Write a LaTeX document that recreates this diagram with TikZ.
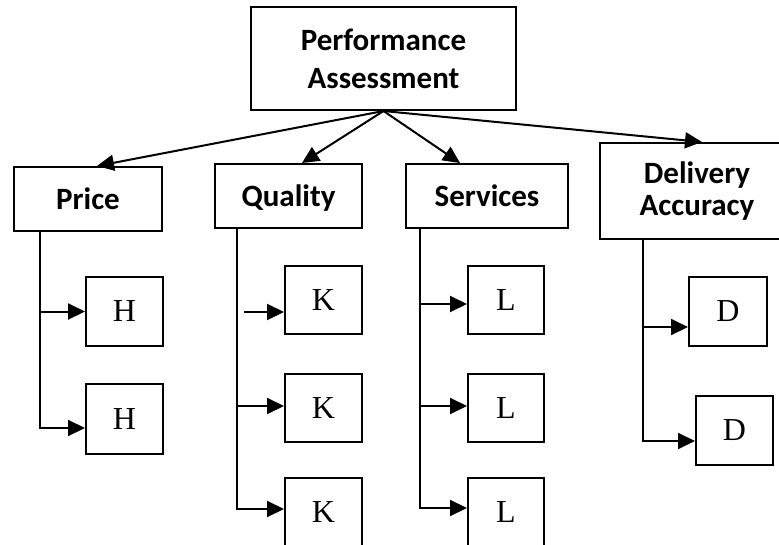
\documentclass[tikz,border=0pt]{standalone}
\usepackage{fontspec}
\setmainfont{Liberation Serif}
\newfontfamily\hdrfont{Carlito}[BoldFont={Carlito Bold}]
\usetikzlibrary{arrows.meta}
\begin{document}
\begin{tikzpicture}[x=1pt,y=-1pt,
  line width=2pt,
  boxstyle/.style={draw, line width=2pt, inner sep=0pt, anchor=center},
  hdr/.style={boxstyle, font=\hdrfont\bfseries\fontsize{31}{38}\selectfont, align=center},
  hdrone/.style={hdr, text height=20pt, text depth=0pt},
  leaf/.style={boxstyle, font=\fontsize{32}{36}\selectfont, minimum width=77pt, minimum height=68pt},
  arr/.style={-{Triangle[length=17pt,width=16pt]}, line width=2pt}]
\useasboundingbox (0,0) rectangle (779,544);
\clip (0,0) rectangle (779,544);
% header boxes
\node[hdr, minimum width=265pt, minimum height=103pt] (top) at (383.5,58.5) {Performance\\Assessment};
\node[hdrone, minimum width=148pt, minimum height=64pt] (price) at (88,199) {Price};
\node[hdrone, minimum width=147pt, minimum height=64pt] (quality) at (288.5,196) {Quality};
\node[hdrone, minimum width=162pt, minimum height=64pt] (services) at (487,196) {Services};
\node[hdr, font=\hdrfont\bfseries\fontsize{31}{32}\selectfont, minimum width=194pt, minimum height=96pt] (delivery) at (697,191) {Delivery\\Accuracy};
% leaves
\node[leaf, minimum height=69pt] (h1) at (124.5,311.5) {H};
\node[leaf, minimum height=70pt] (h2) at (124.5,419) {H};
\node[leaf] (k1) at (323.5,300) {K};
\node[leaf] (k2) at (323.5,408) {K};
\node[leaf] (k3) at (323.5,512) {K};
\node[leaf, minimum width=76pt] (l1) at (506,300) {L};
\node[leaf, minimum width=76pt] (l2) at (506,408) {L};
\node[leaf, minimum width=76pt] (l3) at (506,512) {L};
\node[leaf, minimum width=78pt, minimum height=69pt] (d1) at (728,311.5) {D};
\node[leaf, minimum height=69pt] (d2) at (734.5,430.5) {D};
% top arrows
\draw[arr] (top.south) -- ([xshift=9pt]price.north);
\draw[arr] (top.south) -- ([xshift=13.5pt]quality.north);
\draw[arr] (top.south) -- ([xshift=-27pt]services.north);
\draw[arr] (top.south) -- ([xshift=5pt]delivery.north);
% price branch
\coordinate (pl) at ([xshift=27pt]price.south west);
\draw[arr] (pl) |- ([yshift=-9pt]h2.west);
\draw[arr] (pl |- h1.west) -- (h1.west);
% quality branch
\coordinate (ql) at ([xshift=23pt]quality.south west);
\draw[arr] (ql) |- ([yshift=3pt]k3.west);
\draw[arr] ([yshift=2pt]k2.west -| ql) -- ([yshift=2pt]k2.west);
\coordinate (qgap) at ([xshift=7pt]ql |- 0,312);
\draw[arr] (qgap) -- (qgap -| k1.west);
% services branch
\coordinate (sl) at ([xshift=15pt]services.south west);
\draw[arr] (sl) |- ([yshift=4pt]l3.west);
\draw[arr] ([yshift=2pt]l2.west -| sl) -- ([yshift=2pt]l2.west);
\draw[arr] ([yshift=-4pt]l1.west -| sl) -- ([yshift=-4pt]l1.west);
% delivery branch
\coordinate (dl) at ([xshift=44pt]delivery.south west);
\draw[arr] (dl) |- ([yshift=-10.5pt]d2.west);
\draw[arr] ([yshift=-15.5pt]d1.west -| dl) -- ([yshift=-15.5pt]d1.west);
\end{tikzpicture}
\end{document}
